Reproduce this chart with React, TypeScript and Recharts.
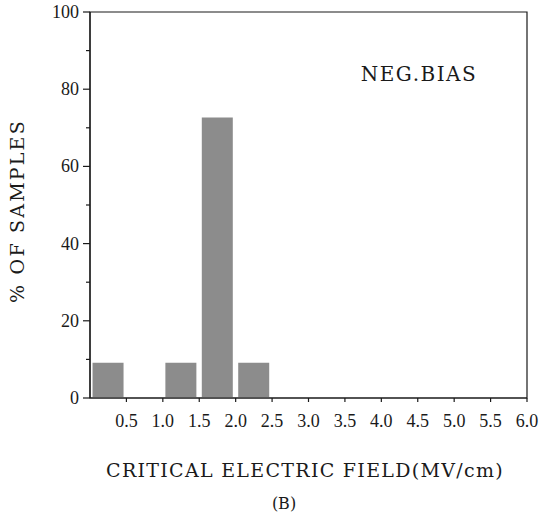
import React from "react";
import {
  Bar,
  BarChart,
  XAxis,
  YAxis,
  ReferenceArea,
} from "recharts";

// histogram bins (MV/cm), 0.5 wide, plotted at bin centres
const binCentres = [0.25, 0.75, 1.25, 1.75, 2.25, 2.75, 3.25, 3.75, 4.25, 4.75, 5.25, 5.75];
const percentSamples = [9.1, 0, 9.1, 72.7, 9.1, 0, 0, 0, 0, 0, 0, 0];
const xTicks = [0.5, 1.0, 1.5, 2.0, 2.5, 3.0, 3.5, 4.0, 4.5, 5.0, 5.5, 6.0];
const yTicks = [0, 10, 20, 30, 40, 50, 60, 70, 80, 90, 100];
const yLabelTicks = [0, 20, 40, 60, 80, 100];

const data = binCentres.map((c, i) => ({ field: c, pct: percentSamples[i] }));

const TITLE_FONT = "'DejaVu Serif', serif";
const TICK_FONT = "'Liberation Serif', serif";
const INK = "#1a1a1a";

function YTick(props: any) {
  const { x, y, payload } = props;
  const axisX = x + 11;
  const major = yLabelTicks.includes(payload.value);
  return (
    <g>
      <line
        x1={axisX - (major ? 7 : 4)}
        x2={axisX}
        y1={y}
        y2={y}
        stroke={INK}
        strokeWidth={1.2}
      />
      {major && (
        <text
          x={x}
          y={y}
          dy={6}
          textAnchor="end"
          fontFamily={TICK_FONT}
          fontSize={18}
          fill={INK}
        >
          {payload.value}
        </text>
      )}
    </g>
  );
}

export default function App() {
  return (
    <div
      style={{
        position: "absolute",
        left: 0,
        top: 0,
        width: 540,
        height: 512,
        overflow: "hidden",
        fontFamily: TITLE_FONT,
        color: INK,
      }}
    >
      <BarChart
        width={540}
        height={512}
        data={data}
        margin={{ top: 12, right: 13, left: 0, bottom: 84 }}
        barCategoryGap="7%"
        style={{ overflow: "visible" }}
      >
        <XAxis
          dataKey="field"
          type="number"
          domain={[0, 6]}
          ticks={xTicks}
          interval={0}
          tickFormatter={(v: number) => v.toFixed(1)}
          height={30}
          tickSize={4}
          tickMargin={12}
          tick={{ fontFamily: TICK_FONT, fontSize: 18, fill: INK }}
          stroke={INK}
          strokeWidth={1.2}
          allowDataOverflow
        />
        <YAxis
          yAxisId="left"
          domain={[0, 100]}
          ticks={yTicks}
          interval={0}
          width={90}
          tickSize={6}
          tickMargin={5}
          tickLine={false}
          tick={<YTick />}
          stroke={INK}
          strokeWidth={1.2}
        />
        <YAxis
          yAxisId="right"
          orientation="right"
          mirror
          width={0}
          domain={[0, 100]}
          ticks={yTicks}
          interval={0}
          tick={false}
          tickSize={4}
          stroke={INK}
          strokeWidth={1.2}
        />
        <ReferenceArea
          yAxisId="left"
          x1={0}
          x2={6}
          y1={0}
          y2={100}
          fill="none"
          fillOpacity={0}
          stroke={INK}
          strokeWidth={1.2}
        />
        <Bar
          yAxisId="left"
          dataKey="pct"
          fill="#8c8c8c"
          isAnimationActive={false}
        />
      </BarChart>
      <div
        style={{
          position: "absolute",
          left: 357,
          top: 62,
          width: 124,
          textAlign: "center",
          fontSize: 20,
          letterSpacing: 1.5,
          whiteSpace: "nowrap",
        }}
      >
        NEG.BIAS
      </div>
      <div style={{ position: "absolute", left: 17, top: 211, width: 0, height: 0 }}>
        <div
          style={{
            position: "absolute",
            transform: "translate(-50%, -50%) rotate(-90deg)",
            fontSize: 19,
            whiteSpace: "nowrap",
            letterSpacing: 2.2,
          }}
        >
          % OF SAMPLES
        </div>
      </div>
      <div style={{ position: "absolute", left: 305, top: 470, width: 0, height: 0 }}>
        <div
          style={{
            position: "absolute",
            transform: "translate(-50%, -50%)",
            fontSize: 19,
            whiteSpace: "nowrap",
            letterSpacing: 1.3,
          }}
        >
          CRITICAL ELECTRIC FIELD(MV/cm)
        </div>
      </div>
      <div style={{ position: "absolute", left: 284, top: 503, width: 0, height: 0 }}>
        <div
          style={{
            position: "absolute",
            transform: "translate(-50%, -50%)",
            fontSize: 16,
            whiteSpace: "nowrap",
          }}
        >
          (B)
        </div>
      </div>
    </div>
  );
}
